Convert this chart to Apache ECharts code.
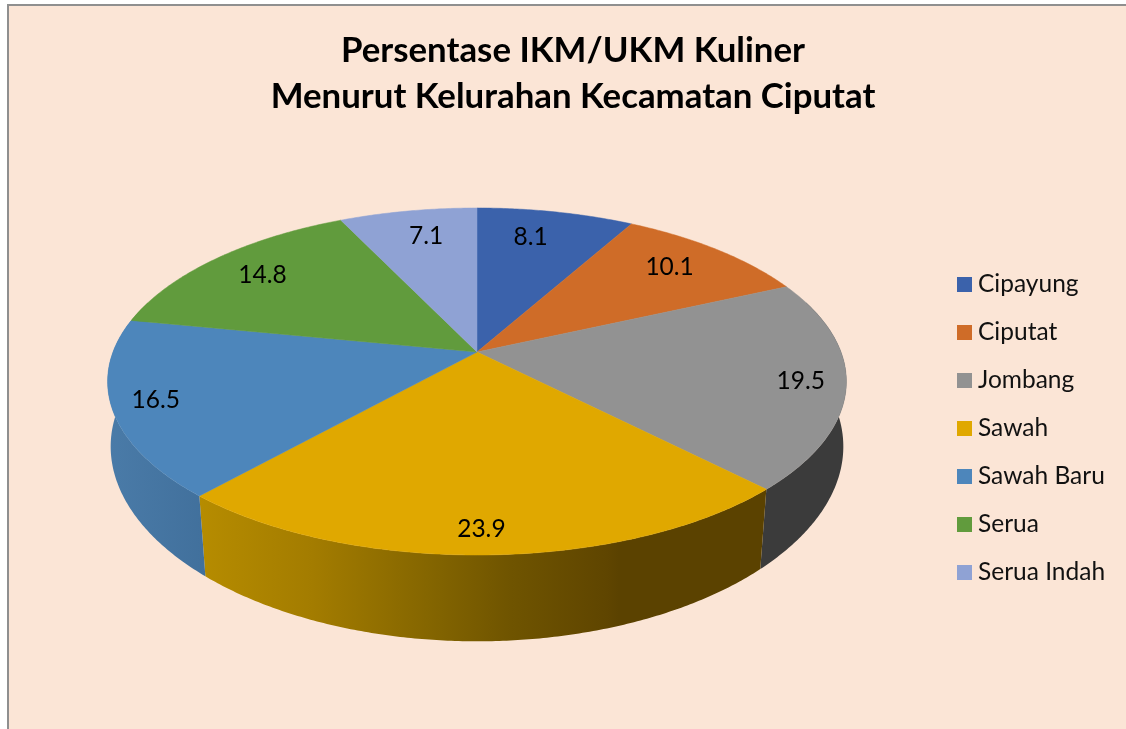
<!DOCTYPE html>
<html>
<head>
<meta charset="utf-8">
<style>html,body{margin:0;padding:0;background:#fff}#chart{width:1126px;height:729px}</style>
<script src="https://cdn.jsdelivr.net/npm/echarts@6/dist/echarts.min.js"></script>
</head>
<body>
<div id="chart"></div>
<script>
const titleLines = ['Persentase IKM/UKM Kuliner', 'Menurut Kelurahan Kecamatan Ciputat'];
const categories = ['Cipayung', 'Ciputat', 'Jombang', 'Sawah', 'Sawah Baru', 'Serua', 'Serua Indah'];
const values = [8.1, 10.1, 19.5, 23.9, 16.5, 14.8, 7.1];
const topColors = ['#3b62ab', '#cf6c28', '#929292', '#e0a800', '#4d86bb', '#619b3d', '#8fa2d4'];
const labelRadius = [0.79, 0.80, 0.88, 0.89, 0.885, 0.81, 0.795];
const labelTurn = [-2.4, -1, 0.4, 0.6, 0.5, 0.1, 1.3];
const wallStops = {
  2: [[0, '#3b3b3b'], [1, '#3b3b3b']],
  3: [[0, '#b68c00'], [0.2, '#a37c00'], [0.4, '#856600'], [0.55, '#6f5400'], [0.72, '#5f4500'], [0.74, '#5b4200'], [1, '#5b4200']],
  4: [[0, '#4a7ba8'], [1, '#41709c']]
};

// perspective model of the pie disc
const view = { cx: 477, cy: 352, a: 364, b: 168.5, p: -0.17, baseP: -0.15, baseX: 0.995, baseY: 1.1, drop: 66 };
function project(deg, r, base) {
  const t = deg * Math.PI / 180;
  const X = r * Math.sin(t), Y = -r * Math.cos(t);
  const w = 1 + view.p * Y;
  const dx = view.a * X / w, dy = view.b * Y / w;
  return base
    ? [view.cx + view.a * view.baseX * X / (1 + view.baseP * Y), view.cy + dy * view.baseY + view.drop]
    : [view.cx + dx, view.cy + dy];
}
function arc(a0, a1, base) {
  const pts = [];
  const n = Math.max(2, Math.ceil(Math.abs(a1 - a0) * 2));
  for (let i = 0; i <= n; i++) pts.push(project(a0 + (a1 - a0) * i / n, 1, base));
  return pts;
}
const total = values.reduce((s, v) => s + v, 0);
const VISIBLE = [72, 288];

function renderSlice(idx) {
  const before = values.slice(0, idx).reduce((s, v) => s + v, 0);
  const a0 = before / total * 360, a1 = (before + values[idx]) / total * 360;
  const children = [];
  const w0 = Math.max(a0, VISIBLE[0]), w1 = Math.min(a1, VISIBLE[1]);
  if (w1 > w0) {
    const upper = arc(w0, w1, false), lower = arc(w0, w1, true).reverse();
    const xs = upper.concat(lower).map(p => p[0]);
    const stops = wallStops[idx] || [[0, topColors[idx]], [1, topColors[idx]]];
    const fill = new echarts.graphic.LinearGradient(Math.min(...xs), 0, Math.max(...xs), 0,
      stops.map(s => ({ offset: s[0], color: s[1] })), true);
    children.push({ type: 'polygon', z2: 1, shape: { points: upper.concat(lower) },
      style: { fill: fill, stroke: null } });
  }
  children.push({ type: 'polygon', z2: 5,
    shape: { points: [project(0, 0, false)].concat(arc(a0, a1, false)) },
    style: { fill: topColors[idx], stroke: topColors[idx], lineWidth: 0.5 } });
  const lp = project((a0 + a1) / 2 + labelTurn[idx], labelRadius[idx], false);
  children.push({ type: 'text', z2: 10, x: lp[0], y: lp[1],
    style: { text: String(values[idx]), fill: '#000', align: 'center', verticalAlign: 'middle',
      font: '24.5px Lato, Carlito, sans-serif' } });
  return { type: 'group', children: children };
}

const chart = echarts.init(document.getElementById('chart'), null, { renderer: 'canvas' });
chart.setOption({
  animation: false,
  backgroundColor: '#ffffff',
  title: {
    text: titleLines.join('\n'), left: 568, top: 23, textAlign: 'center',
    textStyle: { fontFamily: 'Lato, Carlito, sans-serif', fontWeight: 'bold', fontSize: 34.8, lineHeight: 46, color: '#000' }
  },
  legend: {
    orient: 'vertical', left: 957, top: 272, itemWidth: 15, itemHeight: 15, itemGap: 23, padding: 0,
    icon: 'rect', data: categories, selectedMode: false,
    textStyle: { fontFamily: 'Lato, Carlito, sans-serif', fontSize: 24.5, color: '#111', lineHeight: 15, padding: [0, 0, 0, 1] }
  },
  graphic: [{
    type: 'rect', z: -10, silent: true,
    shape: { x: 8, y: 5, width: 1200, height: 800 },
    style: { fill: '#fbe5d6', stroke: '#8f8f8f', lineWidth: 2 }
  }],
  series: categories.map((name, idx) => ({
    type: 'custom', name: name, coordinateSystem: 'none',
    itemStyle: { color: topColors[idx] },
    data: [[values[idx]]],
    renderItem: () => renderSlice(idx)
  }))
});
</script>
</body>
</html>
